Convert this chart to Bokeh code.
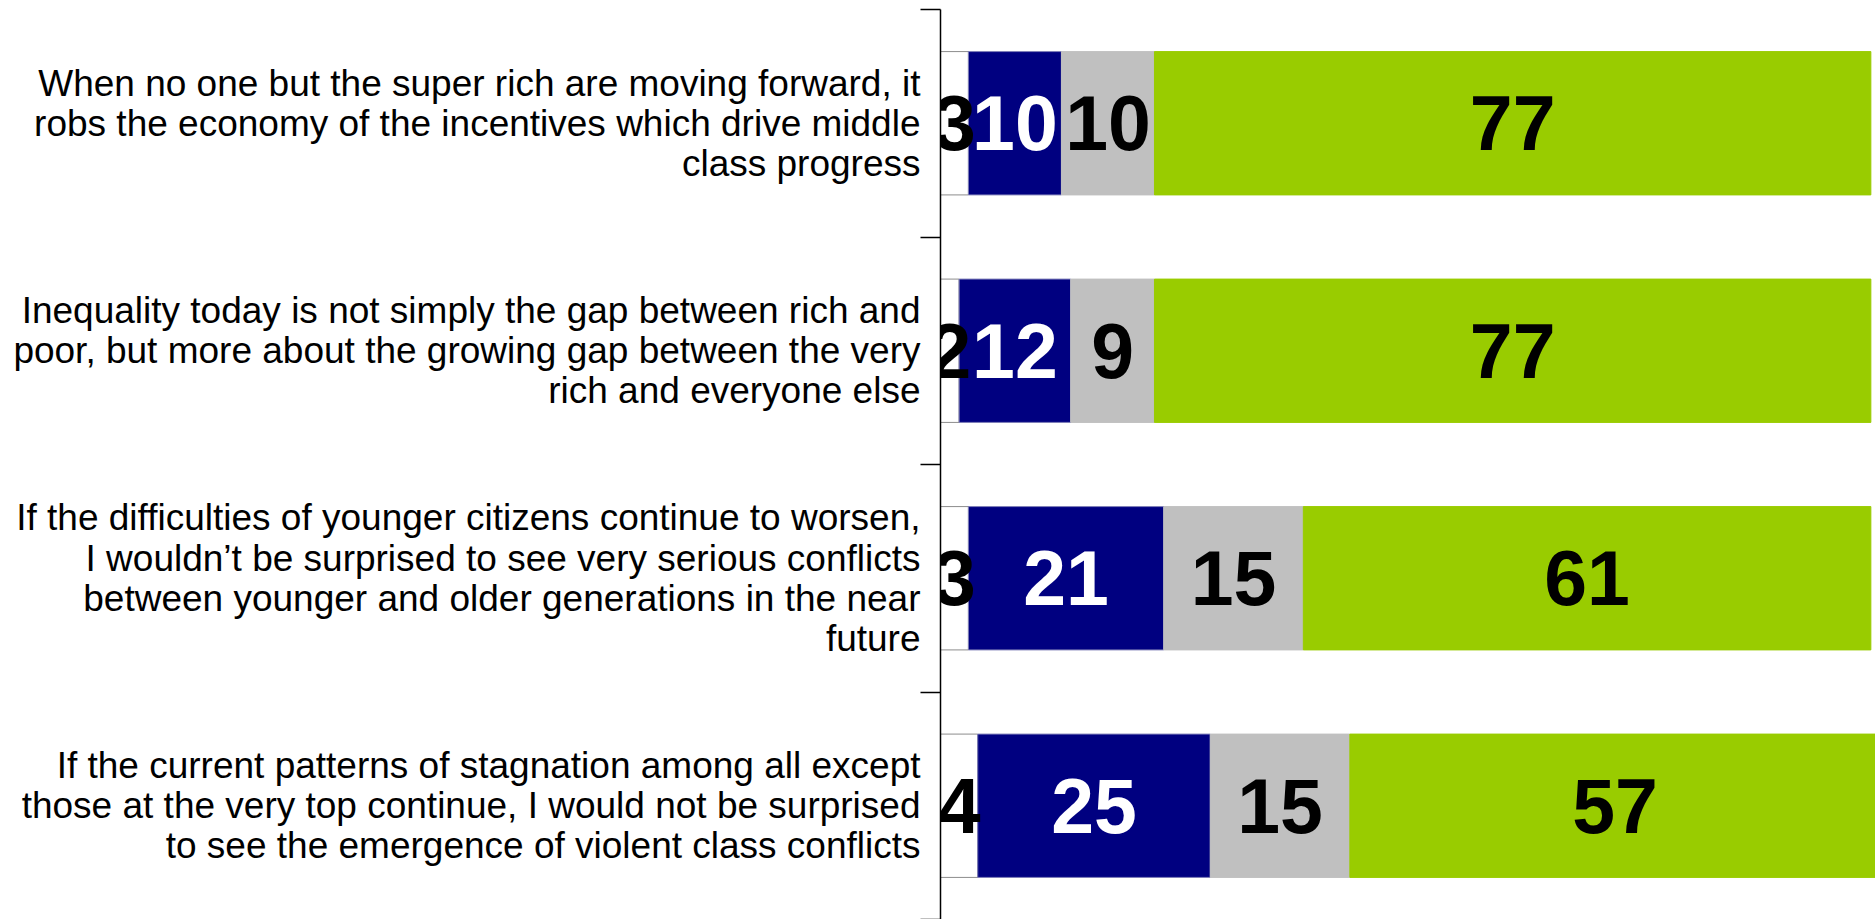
import numpy as np
from bokeh.plotting import figure
from bokeh.models import (Range1d, LinearAxis, FixedTicker, ColumnDataSource, LabelSet)
from bokeh.core.properties import value
from bokeh.embed import file_html
from bokeh.resources import INLINE

categories = [
    "When no one but the super rich are moving forward, it\nrobs the economy of the incentives which drive middle\nclass progress",
    "Inequality today is not simply the gap between rich and\npoor, but more about the growing gap between the very\nrich and everyone else",
    "If the difficulties of younger citizens continue to worsen,\nI wouldn\u2019t be surprised to see very serious conflicts\nbetween younger and older generations in the near\nfuture",
    "If the current patterns of stagnation among all except\nthose at the very top continue, I would not be surprised\nto see the emergence of violent class conflicts",
]
dont_know = [3, 2, 3, 4]
disagree = [10, 12, 21, 25]
neutral = [10, 9, 15, 15]
agree = [77, 77, 61, 57]

series = [dont_know, disagree, neutral, agree]
fills = ["#FFFFFF", "#000080", "#C0C0C0", "#99CC00"]
lines = ["#8C8C8C", "#7F7FB8", "#C0C0C0", "#99CC00"]
text_colors = ["black", "white", "black", "black"]

n = len(categories)
ypos = [n - i - 0.5 for i in range(n)]   # first category at the top

p = figure(width=1875, height=919,
           y_range=Range1d(0, n), x_range=Range1d(0, 100.5),
           output_backend="svg", toolbar_location=None,
           x_axis_location=None, y_axis_location=None,
           min_border_left=940, min_border_top=9, min_border_bottom=0,
           min_border_right=0)
p.outline_line_color = None
p.xgrid.visible = False
p.ygrid.visible = False
p.background_fill_color = "white"
p.border_fill_color = "white"

bounds = list(range(n + 1))
tick_axis = LinearAxis(ticker=FixedTicker(ticks=bounds, minor_ticks=[]),
                       major_label_overrides={b: "" for b in bounds},
                       major_tick_out=20, major_tick_in=0,
                       minor_tick_out=0, minor_tick_in=0,
                       major_label_text_font_size="10px", major_label_standoff=0,
                       axis_line_width=1.5, major_tick_line_width=1.5,
                       axis_line_color="black", major_tick_line_color="black")
label_axis = LinearAxis(ticker=FixedTicker(ticks=ypos, minor_ticks=[]),
                        major_label_overrides={y: c for y, c in zip(ypos, categories)},
                        axis_line_color=None, major_tick_line_color=None,
                        minor_tick_line_color=None,
                        major_tick_out=0, major_tick_in=0,
                        minor_tick_out=0, minor_tick_in=0,
                        major_label_text_font_size="37px",
                        major_label_text_font="Liberation Sans",
                        major_label_text_color="black",
                        major_label_text_line_height=0.98,
                        major_label_standoff=0)
p.add_layout(tick_axis, "left")
p.add_layout(label_axis, "left")

left = np.zeros(n)
lab_x, lab_y, lab_t, lab_c = [], [], [], []
for vals, fc, lc, tc in zip(series, fills, lines, text_colors):
    v = np.array(vals, dtype=float)
    right = left + v
    src = ColumnDataSource(dict(y=ypos, left=left.copy(), right=right))
    p.hbar(y="y", left="left", right="right", height=0.63, source=src,
           fill_color=fc, line_color=lc, line_width=1)
    lab_x += list((left + right) / 2)
    lab_y += ypos
    lab_t += [str(x) for x in vals]
    lab_c += [tc] * len(vals)
    left = right

lsrc = ColumnDataSource(dict(x=lab_x, y=lab_y, t=lab_t, c=lab_c))
labels = LabelSet(x="x", y="y", text="t", source=lsrc, text_align="center",
                  text_baseline="middle", text_font=value("Liberation Sans"),
                  text_font_size=value("77px"), text_font_style=value("bold"),
                  text_color="c")
p.add_layout(labels)

open("out.html", "w").write(file_html(p, INLINE))
